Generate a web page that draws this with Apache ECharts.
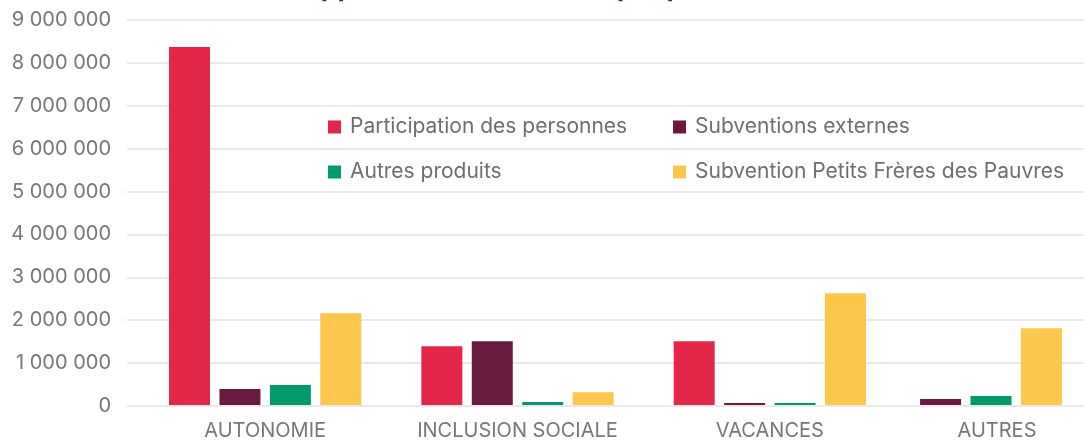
<!DOCTYPE html>
<html>
<head>
<meta charset="utf-8">
<script src="https://cdn.jsdelivr.net/npm/echarts@6/dist/echarts.min.js"></script>
<style>
  html, body { margin: 0; padding: 0; background: #fff; }
  #chart { width: 1086px; height: 441px; }
</style>
</head>
<body>
<div id="chart"></div>
<script>
  // données
  var categories = ['AUTONOMIE', 'INCLUSION SOCIALE', 'VACANCES', 'AUTRES'];
  var seriesNames = ['Participation des personnes', 'Subventions externes', 'Autres produits', 'Subvention Petits Frères des Pauvres'];
  var participation = [8370000, 1375000, 1490000, 0];
  var subventionsExternes = [375000, 1490000, 47000, 140000];
  var autresProduits = [470000, 70000, 47000, 210000];
  var subventionPFP = [2145000, 300000, 2610000, 1795000];
  var yTicks = [0, 1000000, 2000000, 3000000, 4000000, 5000000, 6000000, 7000000, 8000000, 9000000];

  var colors = ['#e42648', '#6a1a3c', '#009a6b', '#fdc74b'];
  var values = [participation, subventionsExternes, autresProduits, subventionPFP];
  var font = 'Inter';
  var grey = '#777777';

  function fmt(v) {
    return String(v).replace(/\B(?=(\d{3})+(?!\d))/g, ' ');
  }

  var myChart = echarts.init(document.getElementById('chart'));

  var series = [];
  // les trois premières catégories
  values.forEach(function (arr, i) {
    series.push({
      name: seriesNames[i],
      type: 'bar',
      xAxisIndex: 1,
      yAxisIndex: 1,
      barWidth: 41,
      barGap: '23%',
      itemStyle: { color: colors[i] },
      data: arr.slice(0, 3)
    });
  });
  // dernière catégorie : seulement les séries présentes
  values.forEach(function (arr, i) {
    if (!arr[3]) return;
    series.push({
      name: seriesNames[i],
      type: 'bar',
      xAxisIndex: 2,
      yAxisIndex: 2,
      barWidth: 41,
      barGap: '23%',
      itemStyle: { color: colors[i] },
      data: [arr[3]]
    });
  });

  var yMax = yTicks[yTicks.length - 1];
  var yStep = yTicks[1] - yTicks[0];

  var legendText = { color: '#6e6e6e', fontSize: 21, lineHeight: 24, padding: [0, 0, 0, 4], fontFamily: font };

  var option = {
    backgroundColor: '#fff',
    animation: false,
    textStyle: { fontFamily: font },
    title: {
      text: 'Apports des ressources par pôle',
      left: 296,
      top: -30,
      textStyle: { color: '#6a1a3c', fontSize: 26.5, fontWeight: 'bold', fontFamily: font }
    },
    legend: [{
      data: [seriesNames[0], seriesNames[2]],
      orient: 'vertical',
      left: 323,
      top: 110,
      icon: 'rect',
      itemWidth: 13,
      itemHeight: 13,
      itemGap: 21,
      textStyle: legendText
    }, {
      data: [seriesNames[1], seriesNames[3]],
      orient: 'vertical',
      left: 668,
      top: 110,
      icon: 'rect',
      itemWidth: 13,
      itemHeight: 13,
      itemGap: 21,
      textStyle: legendText
    }],
    grid: [
      { left: 127, right: 2, top: 20, bottom: 35 },
      { left: 139, width: 757, top: 20, bottom: 35 },
      { left: 896, width: 202, top: 20, bottom: 35 }
    ],
    xAxis: [
      { type: 'category', gridIndex: 0, show: false, data: [] },
      {
        type: 'category', gridIndex: 1,
        data: categories.slice(0, 3),
        axisLine: { show: false },
        axisTick: { show: false },
        axisLabel: { color: grey, fontSize: 20, margin: 16, interval: 0, fontFamily: font }
      },
      {
        type: 'category', gridIndex: 2,
        data: categories.slice(3),
        axisLine: { show: false },
        axisTick: { show: false },
        axisLabel: { color: grey, fontSize: 20, margin: 16, interval: 0, fontFamily: font, padding: [0, 0, 0, 12] }
      }
    ],
    yAxis: [
      {
        type: 'value', gridIndex: 0,
        min: 0, max: yMax, interval: yStep,
        axisLine: { show: false },
        axisTick: { show: false },
        axisLabel: { color: grey, fontSize: 20, margin: 16, fontFamily: font, formatter: fmt },
        splitLine: { lineStyle: { color: '#e2e2e2', width: 1.5 } }
      },
      { type: 'value', gridIndex: 1, min: 0, max: yMax, show: false, splitLine: { show: false } },
      { type: 'value', gridIndex: 2, min: 0, max: yMax, show: false, splitLine: { show: false } }
    ],
    series: series
  };

  myChart.setOption(option);
</script>
</body>
</html>
